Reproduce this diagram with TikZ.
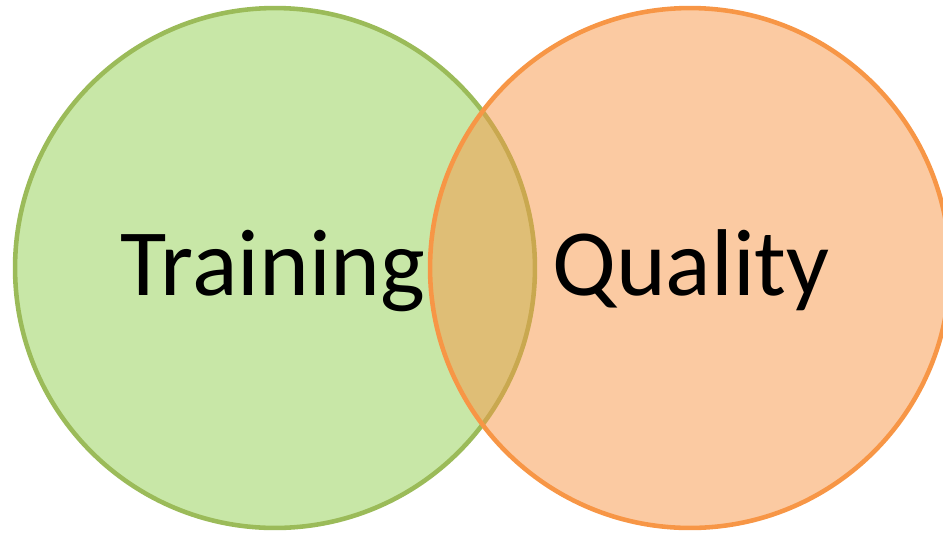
\documentclass[tikz,border=0pt]{standalone}
\usepackage{fontspec}
\setmainfont{Carlito}
\usepackage{xcolor}
\definecolor{trainfill}{HTML}{92D050}
\definecolor{trainline}{HTML}{9BBB59}
\definecolor{qualline}{HTML}{F79646}

\begin{document}
\begin{tikzpicture}[x=0.02cm,y=-0.02cm,radius=5.2cm,
		ring/.style={line width=2.6pt,fill opacity=0.5},
		word/.style={anchor=base,inner sep=0pt,font=\fontsize{54}{60}\selectfont}]
				\useasboundingbox (0,0) rectangle (943,532);
				\coordinate (T) at (275,268);
				\coordinate (Q) at (690,268);
				\draw[ring,draw=trainline,fill=trainfill] (T) circle;
				\draw[ring,draw=qualline,fill=qualline] (Q) circle;
				\node[word] (training) at (273,295) {Training};
				\node[word] (quality) at (691,295) {Quality};
			\end{tikzpicture}
\end{document}
